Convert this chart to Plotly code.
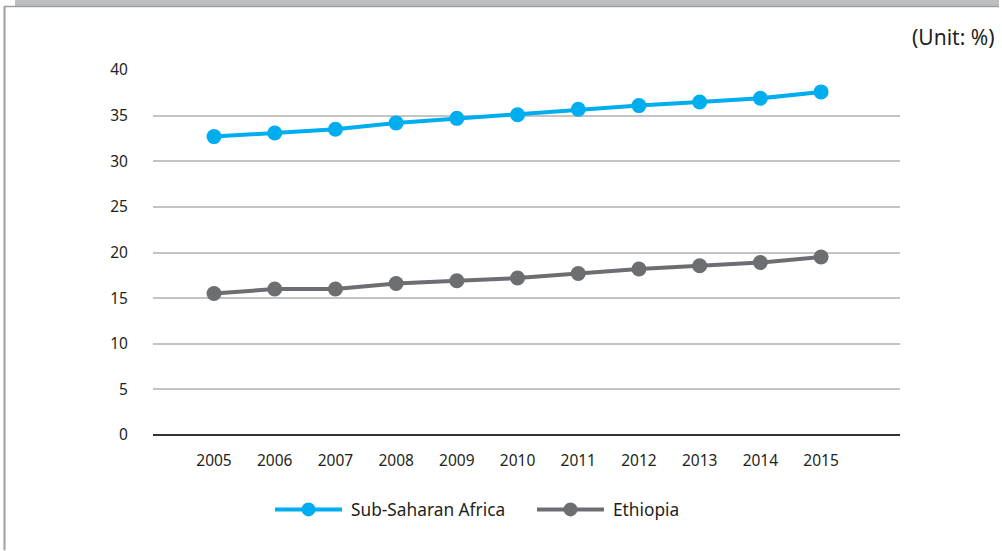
import plotly.graph_objects as go

years = ["2005", "2006", "2007", "2008", "2009", "2010", "2011", "2012", "2013", "2014", "2015"]
ssa = [32.7, 33.1, 33.5, 34.2, 34.7, 35.1, 35.7, 36.1, 36.5, 36.9, 37.6]
ethiopia = [15.5, 16.0, 16.0, 16.6, 16.9, 17.2, 17.7, 18.2, 18.55, 18.9, 19.5]
series_names = ["Sub-Saharan Africa", "Ethiopia"]
colors = ["#00AEEF", "#6D6E71"]
y_ticks = [0, 5, 10, 15, 20, 25, 30, 35, 40]

W, H = 1002, 551
L, R, T, B = 153, 900, 70, 435.5
FONT = "Noto Sans"
TXT = "#231F20"


def px(x):
    return (x - L) / (R - L)


def py(y):
    return (B - y) / (B - T)


fig = go.Figure()
for name, vals, col in zip(series_names, [ssa, ethiopia], colors):
    fig.add_trace(go.Scatter(
        x=list(range(len(years))), y=vals, name=name, mode="lines+markers",
        line=dict(color=col, width=4), marker=dict(color=col, size=15),
        showlegend=False, cliponaxis=False))

shapes = []
# frame
shapes.append(dict(type="rect", xref="paper", yref="paper", x0=px(15), x1=px(999), y0=py(0), y1=py(6),
                   fillcolor="#BCBEC0", line=dict(width=0), layer="above"))
shapes.append(dict(type="line", xref="paper", yref="paper", x0=px(4), x1=px(999), y0=py(6.5), y1=py(6.5),
                   line=dict(color="#9D9FA2", width=1.5), layer="above"))
shapes.append(dict(type="line", xref="paper", yref="paper", x0=px(4.5), x1=px(4.5), y0=py(6), y1=py(551),
                   line=dict(color="#9D9FA2", width=2), layer="above"))

# custom legend
annotations = []
leg = [(275, 342, 349), (537, 604, 611)]
for (x0, x1, xt), name, col in zip(leg, series_names, colors):
    shapes.append(dict(type="line", xref="paper", yref="paper", x0=px(x0), x1=px(x1), y0=py(510), y1=py(510),
                       line=dict(color=col, width=4)))
    shapes.append(dict(type="circle", xref="paper", yref="paper",
                       x0=px((x0 + x1) / 2 - 7), x1=px((x0 + x1) / 2 + 7),
                       y0=py(517), y1=py(503), fillcolor=col, line=dict(width=0)))
    annotations.append(dict(xref="paper", yref="paper", x=px(xt), y=py(510), text=name, showarrow=False,
                            xanchor="left", yanchor="middle", font=dict(family=FONT, size=17.3, color=TXT)))

annotations.append(dict(xref="paper", yref="paper", x=px(996), y=py(37), text="(Unit: %)", showarrow=False,
                        xanchor="right", yanchor="middle", font=dict(family=FONT, size=21, color=TXT)))

fig.update_layout(
    width=W, height=H,
    margin=dict(l=L, r=W - R, t=T, b=H - B),
    paper_bgcolor="white", plot_bgcolor="white",
    shapes=shapes, annotations=annotations,
    font=dict(family=FONT, size=15.5, color=TXT),
    xaxis=dict(tickmode="array", tickvals=list(range(len(years))), ticktext=years,
               range=[-1.005, 11.3], showgrid=False, zeroline=False, showline=False,
               ticks="outside", ticklen=11, tickcolor="rgba(0,0,0,0)",
               tickfont=dict(family=FONT, size=15.5, color=TXT), fixedrange=True),
    yaxis=dict(range=[0, 40], tickvals=y_ticks, showgrid=True, gridcolor="#C4C4C4", gridwidth=1.5,
               zeroline=True, zerolinecolor="#333333", zerolinewidth=1.5, showline=False,
               ticks="outside", ticklen=21, tickcolor="rgba(0,0,0,0)",
               tickfont=dict(family=FONT, size=15.5, color=TXT), fixedrange=True),
)

fig.write_html("out.html", config={"displayModeBar": False})
